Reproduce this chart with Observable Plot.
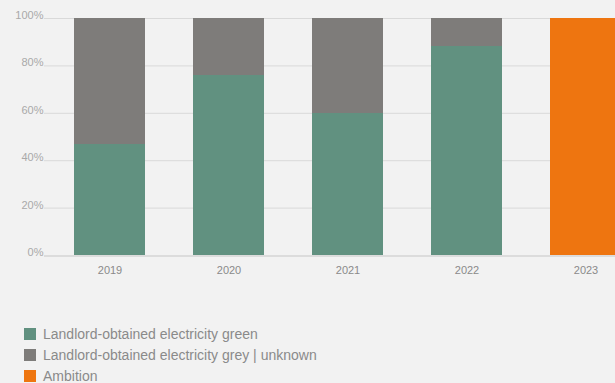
<!DOCTYPE html>
<html>
<head>
<meta charset="utf-8">
<script src="https://cdn.jsdelivr.net/npm/d3@7"></script>
<script src="https://cdn.jsdelivr.net/npm/@observablehq/plot@0.6"></script>
<style>
  html, body { margin: 0; padding: 0; background: #f2f2f2; overflow: hidden; width: 615px; height: 383px; }
  #chart { width: 651px; }
  #chart svg { display: block; max-width: none !important; width: 651px; height: 290px; }
  .legend { margin: 33px 0 0 24px; font: 14px "Liberation Sans", Arial, sans-serif; color: #8a8a8a; }
  .legend .row { height: 21px; display: flex; align-items: center; white-space: nowrap; }
  .legend .sw { width: 12px; height: 12px; margin-right: 7px; flex: none; }
</style>
</head>
<body>
<div id="chart"></div>
<div class="legend" id="legend"></div>
<script>
// Share of landlord-obtained electricity per year (%)
const years = ["2019", "2020", "2021", "2022", "2023"];
const greenShare = [47, 76, 60, 88, 0];
const greyShare = [53, 24, 40, 12, 0];
const ambitionShare = [0, 0, 0, 0, 100];
const seriesNames = [
  "Landlord-obtained electricity green",
  "Landlord-obtained electricity grey | unknown",
  "Ambition"
];
const seriesColors = ["#619180", "#7e7c7a", "#ee7510"];
const yTicks = [0, 20, 40, 60, 80, 100];

// Long-format rows for the stacked bars
const rows = [];
years.forEach((year, i) => {
  [greenShare[i], greyShare[i], ambitionShare[i]].forEach((value, s) => {
    if (value > 0) rows.push({year, series: seriesNames[s], value});
  });
});

const chart = Plot.plot({
  width: 651,
  height: 290,
  marginLeft: 44,
  marginRight: 0,
  marginTop: 18,
  marginBottom: 35,
  style: {background: "#f2f2f2", fontFamily: "Liberation Sans, Arial, sans-serif", overflow: "visible"},
  x: {type: "band", domain: years, paddingInner: 0.4, paddingOuter: 0.244, label: null},
  y: {domain: [0, 100], label: null},
  color: {domain: seriesNames, range: seriesColors},
  marks: [
    Plot.gridY(yTicks.slice(1), {stroke: "#d9d9d9", strokeOpacity: 1}),
    Plot.barY(rows, Plot.stackY({x: "year", y: "value", fill: "series", order: seriesNames, shapeRendering: "crispEdges"})),
    Plot.ruleY([0], {stroke: "#d5d5d5", strokeWidth: 1.5, dy: 0.5}),
    Plot.axisY(yTicks, {tickSize: 0, tickPadding: 1, dy: -3, fill: "#a9a9a9", fontSize: 11, tickFormat: d => d + "%", label: null}),
    Plot.axisX({tickSize: 0, tickPadding: 11, fill: "#8a8a8a", fontSize: 11, label: null})
  ]
});
document.getElementById("chart").appendChild(chart);

// Legend below the chart
const legend = document.getElementById("legend");
seriesNames.forEach((name, i) => {
  const row = document.createElement("div");
  row.className = "row";
  const sw = document.createElement("span");
  sw.className = "sw";
  sw.style.background = seriesColors[i];
  const label = document.createElement("span");
  label.textContent = name;
  row.append(sw, label);
  legend.appendChild(row);
});
</script>
</body>
</html>
